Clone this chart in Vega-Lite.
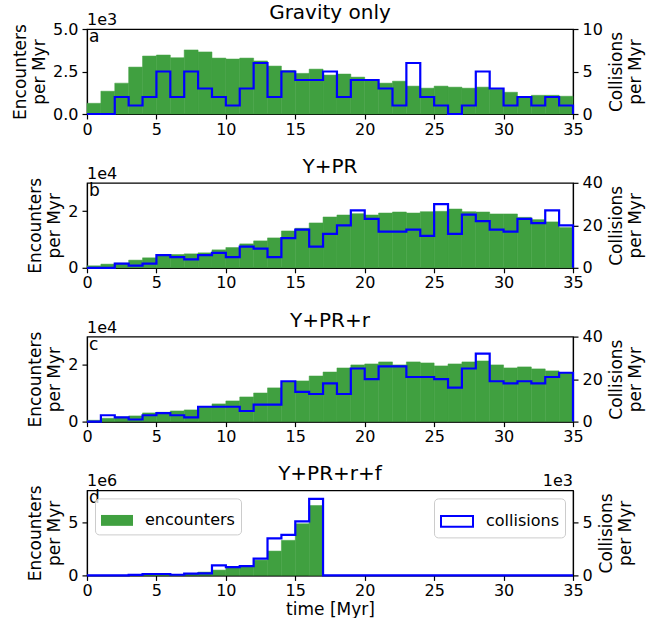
{
"$schema": "https://vega.github.io/schema/vega-lite/v6.json",
"padding": {"left": 10, "top": 2, "right": 5, "bottom": 0},
"config": {
 "font": "DejaVu Sans",
 "view": {"stroke": "black", "strokeWidth": 1.2},
 "axis": {"labelFontSize": 16, "labelColor": "black", "titleFontSize": 17, "titleFontWeight": "normal", "titleColor": "black", "tickColor": "black", "domainColor": "black", "tickSize": 5, "grid": false, "labelPadding": 4, "titlePadding": 4, "tickWidth": 1.2, "domainWidth": 1.2},
 "axisX": {"labelPadding": 2, "titlePadding": 3},
 "title": {"fontSize": 20, "fontWeight": "normal", "color": "black", "offset": -11},
 "concat": {"spacing": 17.8}
},
"datasets": {
 "h": [
  {"p":"a","t":0,"t1":1,"enc":630,"col":0},{"p":"a","t":1,"t1":2,"enc":1340,"col":0},{"p":"a","t":2,"t1":3,"enc":1815,"col":2},{"p":"a","t":3,"t1":4,"enc":2760,"col":1},{"p":"a","t":4,"t1":5,"enc":3410,"col":2},{"p":"a","t":5,"t1":6,"enc":3470,"col":5},{"p":"a","t":6,"t1":7,"enc":3310,"col":2},{"p":"a","t":7,"t1":8,"enc":3770,"col":5},{"p":"a","t":8,"t1":9,"enc":3650,"col":3},{"p":"a","t":9,"t1":10,"enc":3290,"col":2},{"p":"a","t":10,"t1":11,"enc":3235,"col":1},{"p":"a","t":11,"t1":12,"enc":3290,"col":3},{"p":"a","t":12,"t1":13,"enc":3120,"col":6},{"p":"a","t":13,"t1":14,"enc":2820,"col":2},{"p":"a","t":14,"t1":15,"enc":2560,"col":5},{"p":"a","t":15,"t1":16,"enc":2390,"col":4},{"p":"a","t":16,"t1":17,"enc":2640,"col":4},{"p":"a","t":17,"t1":18,"enc":2290,"col":5},{"p":"a","t":18,"t1":19,"enc":2350,"col":2},{"p":"a","t":19,"t1":20,"enc":2170,"col":4},{"p":"a","t":20,"t1":21,"enc":1990,"col":4},{"p":"a","t":21,"t1":22,"enc":1815,"col":3},{"p":"a","t":22,"t1":23,"enc":1930,"col":1},{"p":"a","t":23,"t1":24,"enc":1640,"col":6},{"p":"a","t":24,"t1":25,"enc":1520,"col":2},{"p":"a","t":25,"t1":26,"enc":1640,"col":1},{"p":"a","t":26,"t1":27,"enc":1580,"col":0},{"p":"a","t":27,"t1":28,"enc":1520,"col":1},{"p":"a","t":28,"t1":29,"enc":1580,"col":5},{"p":"a","t":29,"t1":30,"enc":1460,"col":3},{"p":"a","t":30,"t1":31,"enc":1280,"col":1},{"p":"a","t":31,"t1":32,"enc":1000,"col":2},{"p":"a","t":32,"t1":33,"enc":1100,"col":1},{"p":"a","t":33,"t1":34,"enc":1100,"col":2},{"p":"a","t":34,"t1":35,"enc":1045,"col":1},{"p":"a","t":35,"t1":35,"enc":null,"col":0},
  {"p":"b","t":0,"t1":1,"enc":700,"col":0},{"p":"b","t":1,"t1":2,"enc":1290,"col":0},{"p":"b","t":2,"t1":3,"enc":1640,"col":2},{"p":"b","t":3,"t1":4,"enc":2700,"col":1},{"p":"b","t":4,"t1":5,"enc":3520,"col":2},{"p":"b","t":5,"t1":6,"enc":4570,"col":6},{"p":"b","t":6,"t1":7,"enc":4690,"col":5},{"p":"b","t":7,"t1":8,"enc":4920,"col":4},{"p":"b","t":8,"t1":9,"enc":5280,"col":6},{"p":"b","t":9,"t1":10,"enc":6330,"col":7},{"p":"b","t":10,"t1":11,"enc":7150,"col":5},{"p":"b","t":11,"t1":12,"enc":8440,"col":10},{"p":"b","t":12,"t1":13,"enc":9500,"col":9},{"p":"b","t":13,"t1":14,"enc":10550,"col":5},{"p":"b","t":14,"t1":15,"enc":13000,"col":14},{"p":"b","t":15,"t1":16,"enc":13950,"col":18},{"p":"b","t":16,"t1":17,"enc":15830,"col":10},{"p":"b","t":17,"t1":18,"enc":17940,"col":16},{"p":"b","t":18,"t1":19,"enc":18640,"col":20},{"p":"b","t":19,"t1":20,"enc":19100,"col":27},{"p":"b","t":20,"t1":21,"enc":18640,"col":23},{"p":"b","t":21,"t1":22,"enc":19340,"col":17},{"p":"b","t":22,"t1":23,"enc":19700,"col":17},{"p":"b","t":23,"t1":24,"enc":19340,"col":18},{"p":"b","t":24,"t1":25,"enc":19800,"col":15},{"p":"b","t":25,"t1":26,"enc":19930,"col":30},{"p":"b","t":26,"t1":27,"enc":20750,"col":16},{"p":"b","t":27,"t1":28,"enc":19800,"col":25},{"p":"b","t":28,"t1":29,"enc":19700,"col":22},{"p":"b","t":29,"t1":30,"enc":19000,"col":18},{"p":"b","t":30,"t1":31,"enc":19000,"col":17},{"p":"b","t":31,"t1":32,"enc":17800,"col":23},{"p":"b","t":32,"t1":33,"enc":17000,"col":21},{"p":"b","t":33,"t1":34,"enc":16200,"col":27},{"p":"b","t":34,"t1":35,"enc":14200,"col":20},{"p":"b","t":35,"t1":35,"enc":null,"col":0},
  {"p":"c","t":0,"t1":1,"enc":470,"col":0},{"p":"c","t":1,"t1":2,"enc":1180,"col":3},{"p":"c","t":2,"t1":3,"enc":1650,"col":2},{"p":"c","t":3,"t1":4,"enc":2000,"col":1},{"p":"c","t":4,"t1":5,"enc":3060,"col":3},{"p":"c","t":5,"t1":6,"enc":3300,"col":4},{"p":"c","t":6,"t1":7,"enc":3760,"col":3},{"p":"c","t":7,"t1":8,"enc":4120,"col":2},{"p":"c","t":8,"t1":9,"enc":5180,"col":7},{"p":"c","t":9,"t1":10,"enc":6240,"col":7},{"p":"c","t":10,"t1":11,"enc":7290,"col":7},{"p":"c","t":11,"t1":12,"enc":8700,"col":5},{"p":"c","t":12,"t1":13,"enc":10100,"col":8},{"p":"c","t":13,"t1":14,"enc":11900,"col":8},{"p":"c","t":14,"t1":15,"enc":14000,"col":19},{"p":"c","t":15,"t1":16,"enc":14350,"col":14},{"p":"c","t":16,"t1":17,"enc":16100,"col":13},{"p":"c","t":17,"t1":18,"enc":17500,"col":18},{"p":"c","t":18,"t1":19,"enc":18940,"col":13},{"p":"c","t":19,"t1":20,"enc":20000,"col":25},{"p":"c","t":20,"t1":21,"enc":20350,"col":20},{"p":"c","t":21,"t1":22,"enc":21060,"col":26},{"p":"c","t":22,"t1":23,"enc":20000,"col":26},{"p":"c","t":23,"t1":24,"enc":21060,"col":21},{"p":"c","t":24,"t1":25,"enc":20700,"col":21},{"p":"c","t":25,"t1":26,"enc":19650,"col":20},{"p":"c","t":26,"t1":27,"enc":20350,"col":16},{"p":"c","t":27,"t1":28,"enc":21060,"col":25},{"p":"c","t":28,"t1":29,"enc":21400,"col":32},{"p":"c","t":29,"t1":30,"enc":20000,"col":19},{"p":"c","t":30,"t1":31,"enc":18940,"col":18},{"p":"c","t":31,"t1":32,"enc":19300,"col":19},{"p":"c","t":32,"t1":33,"enc":18600,"col":18},{"p":"c","t":33,"t1":34,"enc":17900,"col":21},{"p":"c","t":34,"t1":35,"enc":17200,"col":23},{"p":"c","t":35,"t1":35,"enc":null,"col":0},
  {"p":"d","t":0,"t1":1,"enc":0,"col":0},{"p":"d","t":1,"t1":2,"enc":0,"col":0},{"p":"d","t":2,"t1":3,"enc":0,"col":0},{"p":"d","t":3,"t1":4,"enc":0,"col":50},{"p":"d","t":4,"t1":5,"enc":50000,"col":130},{"p":"d","t":5,"t1":6,"enc":50000,"col":130},{"p":"d","t":6,"t1":7,"enc":50000,"col":60},{"p":"d","t":7,"t1":8,"enc":130000,"col":160},{"p":"d","t":8,"t1":9,"enc":310000,"col":190},{"p":"d","t":9,"t1":10,"enc":500000,"col":940},{"p":"d","t":10,"t1":11,"enc":700000,"col":780},{"p":"d","t":11,"t1":12,"enc":900000,"col":880},{"p":"d","t":12,"t1":13,"enc":1440000,"col":1570},{"p":"d","t":13,"t1":14,"enc":2290000,"col":3480},{"p":"d","t":14,"t1":15,"enc":3300000,"col":3820},{"p":"d","t":15,"t1":16,"enc":4860000,"col":5080},{"p":"d","t":16,"t1":17,"enc":6580000,"col":7210},{"p":"d","t":17,"t1":18,"enc":0,"col":0},{"p":"d","t":18,"t1":19,"enc":0,"col":0},{"p":"d","t":19,"t1":20,"enc":0,"col":0},{"p":"d","t":20,"t1":21,"enc":0,"col":0},{"p":"d","t":21,"t1":22,"enc":0,"col":0},{"p":"d","t":22,"t1":23,"enc":0,"col":0},{"p":"d","t":23,"t1":24,"enc":0,"col":0},{"p":"d","t":24,"t1":25,"enc":0,"col":0},{"p":"d","t":25,"t1":26,"enc":0,"col":0},{"p":"d","t":26,"t1":27,"enc":0,"col":0},{"p":"d","t":27,"t1":28,"enc":0,"col":0},{"p":"d","t":28,"t1":29,"enc":0,"col":0},{"p":"d","t":29,"t1":30,"enc":0,"col":0},{"p":"d","t":30,"t1":31,"enc":0,"col":0},{"p":"d","t":31,"t1":32,"enc":0,"col":0},{"p":"d","t":32,"t1":33,"enc":0,"col":0},{"p":"d","t":33,"t1":34,"enc":0,"col":0},{"p":"d","t":34,"t1":35,"enc":0,"col":0},{"p":"d","t":35,"t1":35,"enc":null,"col":0}
 ]
},
"resolve": {"scale": {"color": "independent", "stroke": "independent"}, "legend": {"color": "independent", "stroke": "independent"}},
"vconcat": [
 {
  "title": "Gravity only", "width": 486, "height": 85,
  "layer": [
   {"layer": [
    {"data": {"name": "h"}, "transform": [{"filter": "datum.p == 'a' && datum.t < 35"}], "mark": {"type": "bar", "color": "#40a040", "stroke": "#40a040", "strokeWidth": 0.5},
     "encoding": {
      "x": {"field": "t", "type": "quantitative", "scale": {"domain": [0, 35], "nice": false, "zero": false}, "axis": {"values": [0,5,10,15,20,25,30,35], "title": null, "labelFlush": false}},
      "x2": {"field": "t1"},
      "y": {"field": "enc", "type": "quantitative", "scale": {"domain": [0, 5000], "nice": false}, "axis": {"values": [0, 2500, 5000], "labelExpr": "format(datum.value/1000, '.1f')", "title": ["Encounters", "per Myr"]}},
      "y2": {"datum": 0}
     }},
    {"data": {"values": [{}]}, "mark": {"type": "text", "text": "a", "align": "left", "baseline": "top", "dx": 2, "dy": 0, "fontSize": 17, "color": "black"},
     "encoding": {"x": {"datum": 0, "type": "quantitative"}, "y": {"datum": 5000, "type": "quantitative"}}},
    {"data": {"values": [{}]}, "mark": {"type": "text", "text": "1e3", "align": "left", "baseline": "alphabetic", "dx": 0, "dy": -4, "fontSize": 16, "color": "black"},
     "encoding": {"x": {"datum": 0, "type": "quantitative"}, "y": {"datum": 5000, "type": "quantitative"}}}
   ]},
   {"layer": [
    {"data": {"name": "h"}, "transform": [{"filter": "datum.p == 'a'"}], "mark": {"type": "line", "interpolate": "step-after", "color": "#0000ff", "strokeWidth": 2.2},
     "encoding": {
      "x": {"field": "t", "type": "quantitative"},
      "y": {"field": "col", "type": "quantitative", "scale": {"domain": [0, 10], "nice": false}, "axis": {"orient": "right", "values": [0, 5, 10], "title": ["Collisions", "per Myr"], "titleAngle": 270}}
     }}
   ]}
  ],
  "resolve": {"scale": {"y": "independent"}}
 },
 {
  "title": "Y+PR", "width": 486, "height": 85,
  "layer": [
   {"layer": [
    {"data": {"name": "h"}, "transform": [{"filter": "datum.p == 'b' && datum.t < 35"}], "mark": {"type": "bar", "color": "#40a040", "stroke": "#40a040", "strokeWidth": 0.5},
     "encoding": {
      "x": {"field": "t", "type": "quantitative", "scale": {"domain": [0, 35], "nice": false, "zero": false}, "axis": {"values": [0,5,10,15,20,25,30,35], "title": null, "labelFlush": false}},
      "x2": {"field": "t1"},
      "y": {"field": "enc", "type": "quantitative", "scale": {"domain": [0, 30000], "nice": false}, "axis": {"values": [0, 20000], "labelExpr": "format(datum.value/10000, 'd')", "title": ["Encounters", "per Myr"]}},
      "y2": {"datum": 0}
     }},
    {"data": {"values": [{}]}, "mark": {"type": "text", "text": "b", "align": "left", "baseline": "top", "dx": 2, "dy": 0, "fontSize": 17, "color": "black"},
     "encoding": {"x": {"datum": 0, "type": "quantitative"}, "y": {"datum": 30000, "type": "quantitative"}}},
    {"data": {"values": [{}]}, "mark": {"type": "text", "text": "1e4", "align": "left", "baseline": "alphabetic", "dx": 0, "dy": -4, "fontSize": 16, "color": "black"},
     "encoding": {"x": {"datum": 0, "type": "quantitative"}, "y": {"datum": 30000, "type": "quantitative"}}}
   ]},
   {"layer": [
    {"data": {"name": "h"}, "transform": [{"filter": "datum.p == 'b'"}], "mark": {"type": "line", "interpolate": "step-after", "color": "#0000ff", "strokeWidth": 2.2},
     "encoding": {
      "x": {"field": "t", "type": "quantitative"},
      "y": {"field": "col", "type": "quantitative", "scale": {"domain": [0, 40], "nice": false}, "axis": {"orient": "right", "values": [0, 20, 40], "title": ["Collisions", "per Myr"], "titleAngle": 270}}
     }}
   ]}
  ],
  "resolve": {"scale": {"y": "independent"}}
 },
 {
  "title": "Y+PR+r", "width": 486, "height": 85,
  "layer": [
   {"layer": [
    {"data": {"name": "h"}, "transform": [{"filter": "datum.p == 'c' && datum.t < 35"}], "mark": {"type": "bar", "color": "#40a040", "stroke": "#40a040", "strokeWidth": 0.5},
     "encoding": {
      "x": {"field": "t", "type": "quantitative", "scale": {"domain": [0, 35], "nice": false, "zero": false}, "axis": {"values": [0,5,10,15,20,25,30,35], "title": null, "labelFlush": false}},
      "x2": {"field": "t1"},
      "y": {"field": "enc", "type": "quantitative", "scale": {"domain": [0, 30000], "nice": false}, "axis": {"values": [0, 20000], "labelExpr": "format(datum.value/10000, 'd')", "title": ["Encounters", "per Myr"]}},
      "y2": {"datum": 0}
     }},
    {"data": {"values": [{}]}, "mark": {"type": "text", "text": "c", "align": "left", "baseline": "top", "dx": 2, "dy": 0, "fontSize": 17, "color": "black"},
     "encoding": {"x": {"datum": 0, "type": "quantitative"}, "y": {"datum": 30000, "type": "quantitative"}}},
    {"data": {"values": [{}]}, "mark": {"type": "text", "text": "1e4", "align": "left", "baseline": "alphabetic", "dx": 0, "dy": -4, "fontSize": 16, "color": "black"},
     "encoding": {"x": {"datum": 0, "type": "quantitative"}, "y": {"datum": 30000, "type": "quantitative"}}}
   ]},
   {"layer": [
    {"data": {"name": "h"}, "transform": [{"filter": "datum.p == 'c'"}], "mark": {"type": "line", "interpolate": "step-after", "color": "#0000ff", "strokeWidth": 2.2},
     "encoding": {
      "x": {"field": "t", "type": "quantitative"},
      "y": {"field": "col", "type": "quantitative", "scale": {"domain": [0, 40], "nice": false}, "axis": {"orient": "right", "values": [0, 20, 40], "title": ["Collisions", "per Myr"], "titleAngle": 270}}
     }}
   ]}
  ],
  "resolve": {"scale": {"y": "independent"}}
 },
 {
  "title": "Y+PR+r+f", "width": 486, "height": 85,
  "layer": [
   {"layer": [
    {"data": {"name": "h"}, "transform": [{"filter": "datum.p == 'd' && datum.t < 35"}], "mark": {"type": "bar", "stroke": "#40a040", "strokeWidth": 0.5},
     "encoding": {
      "x": {"field": "t", "type": "quantitative", "scale": {"domain": [0, 35], "nice": false, "zero": false}, "axis": {"values": [0,5,10,15,20,25,30,35], "title": "time [Myr]", "labelFlush": false}},
      "x2": {"field": "t1"},
      "y": {"field": "enc", "type": "quantitative", "scale": {"domain": [0, 8000000], "nice": false}, "axis": {"values": [0, 5000000], "labelExpr": "format(datum.value/1000000, 'd')", "title": ["Encounters", "per Myr"]}},
      "y2": {"datum": 0},
      "color": {"datum": "encounters", "type": "nominal", "scale": {"range": ["#40a040"]}, "legend": {"orient": "top-left", "offset": 8, "title": null, "labelFontSize": 16, "labelColor": "black", "symbolType": "M-1,-0.34H1V0.34H-1Z", "symbolSize": 1024, "symbolStrokeWidth": 0, "strokeColor": "#cccccc", "cornerRadius": 4, "padding": 6, "fillColor": "rgba(255,255,255,0.8)", "labelOffset": 12}}
     }},
    {"data": {"values": [{}]}, "mark": {"type": "text", "text": "d", "align": "left", "baseline": "top", "dx": 2, "dy": 0, "fontSize": 17, "color": "black"},
     "encoding": {"x": {"datum": 0, "type": "quantitative"}, "y": {"datum": 8000000, "type": "quantitative"}}},
    {"data": {"values": [{}]}, "mark": {"type": "text", "text": "1e6", "align": "left", "baseline": "alphabetic", "dx": 0, "dy": -4, "fontSize": 16, "color": "black"},
     "encoding": {"x": {"datum": 0, "type": "quantitative"}, "y": {"datum": 8000000, "type": "quantitative"}}}
   ]},
   {"layer": [
    {"data": {"name": "h"}, "transform": [{"filter": "datum.p == 'd'"}], "mark": {"type": "line", "interpolate": "step-after", "strokeWidth": 2.2},
     "encoding": {
      "x": {"field": "t", "type": "quantitative"},
      "y": {"field": "col", "type": "quantitative", "scale": {"domain": [0, 8000], "nice": false}, "axis": {"orient": "right", "values": [0, 5000], "labelExpr": "format(datum.value/1000, 'd')", "title": ["Collisions", "per Myr"], "titleAngle": 270}},
      "stroke": {"datum": "collisions", "type": "nominal", "scale": {"range": ["#0000ff"]}, "legend": {"orient": "top-right", "offset": 8, "title": null, "labelFontSize": 16, "labelColor": "black", "symbolType": "M-1,-0.34H1V0.34H-1Z", "symbolSize": 1024, "symbolStrokeWidth": 2, "symbolFillColor": "white", "strokeColor": "#cccccc", "cornerRadius": 4, "padding": 6, "fillColor": "rgba(255,255,255,0.8)", "labelOffset": 12}}
     }},
    {"data": {"values": [{}]}, "mark": {"type": "text", "text": "1e3", "align": "right", "baseline": "alphabetic", "dx": 0, "dy": -4, "fontSize": 16, "color": "black"},
     "encoding": {"x": {"datum": 35, "type": "quantitative"}, "y": {"datum": 8000, "type": "quantitative"}}}
   ]}
  ],
  "resolve": {"scale": {"y": "independent"}}
 }
]
}
